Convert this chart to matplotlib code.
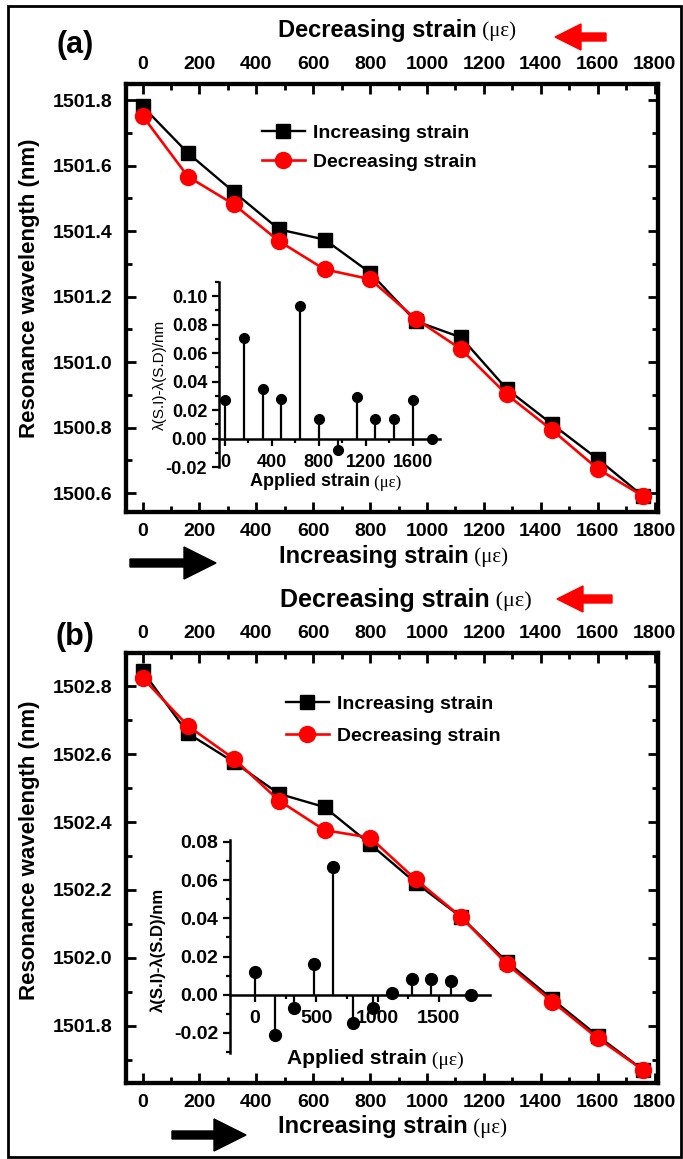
import matplotlib
matplotlib.use("Agg")
import matplotlib.pyplot as plt
from matplotlib.patches import FancyArrow, Rectangle
from matplotlib.ticker import MultipleLocator, FormatStrFormatter

# Deformación aplicada (με)
strain = [0, 160, 320, 480, 640, 800, 960, 1120, 1280, 1440, 1600, 1760]

# Panel (a): longitud de onda de resonancia (nm)
inc_a = [1501.781, 1501.638, 1501.520, 1501.405, 1501.374, 1501.273,
         1501.125, 1501.075, 1500.918, 1500.810, 1500.704, 1500.590]
dec_a = [1501.752, 1501.566, 1501.482, 1501.369, 1501.283, 1501.253,
         1501.132, 1501.039, 1500.901, 1500.792, 1500.674, 1500.590]
diff_a = [0.027, 0.071, 0.035, 0.028, 0.093, 0.014,
          -0.008, 0.029, 0.014, 0.014, 0.027, 0.0]

# Panel (b)
inc_b = [1502.845, 1502.661, 1502.577, 1502.483, 1502.444, 1502.335,
         1502.221, 1502.120, 1501.989, 1501.878, 1501.770, 1501.669]
dec_b = [1502.825, 1502.683, 1502.587, 1502.463, 1502.376, 1502.354,
         1502.231, 1502.120, 1501.982, 1501.871, 1501.763, 1501.669]
diff_b = [0.012, -0.021, -0.007, 0.016, 0.067, -0.015,
          -0.007, 0.001, 0.008, 0.008, 0.007, 0.0]

strain_ticks = [0, 200, 400, 600, 800, 1000, 1200, 1400, 1600, 1800]

W, H = 683, 1159
plt.rcParams['font.family'] = ['Liberation Sans', 'DejaVu Sans']
plt.rcParams['font.weight'] = 'bold'
SERIF = ['Liberation Serif', 'DejaVu Serif']

fig = plt.figure(figsize=(W / 100, H / 100), dpi=100)


def caja(izq, arriba, der, abajo):
    # rectángulo en píxeles -> fracción de figura
    return [izq / W, 1 - abajo / H, (der - izq) / W, (abajo - arriba) / H]


def flecha(x0, x1, y, ancho, cabeza, color):
    a = FancyArrow(x0 / 100, (H - y) / 100, (x1 - x0) / 100, 0,
                   width=ancho / 100, head_width=cabeza / 100,
                   head_length=cabeza / 100, length_includes_head=True,
                   color=color, transform=fig.dpi_scale_trans)
    fig.add_artist(a)


def etiqueta(x, y, texto, size, delta=2):
    # texto en negrita seguido de (με) en letra romana
    t = fig.text(x / W, 1 - y / H, texto, ha='left', va='center',
                 fontsize=size, fontweight='bold')
    fig.text(0, 0, '')
    plt.annotate(' (με)', xy=(1, 0.45), xycoords=t, ha='left', va='center',
                 fontsize=size - delta, family=SERIF, fontweight='normal')


def panel(box, ylim, inc, dec, legend_xy, spacing, inset_box, diff,
          inset_xlim, inset_ylim, inset_major, inset_lsize, dot):
    ax = fig.add_axes(caja(*box))
    ax.plot(strain, inc, color='black', marker='s', markersize=10.5, lw=1.7,
            label='Increasing strain', zorder=3)
    ax.plot(strain, dec, color='red', marker='o', markersize=11.5, lw=1.9,
            label='Decreasing strain', zorder=4)
    ax.set_xlim(-58, 1812)
    ax.set_ylim(*ylim)
    ax.xaxis.set_major_locator(MultipleLocator(200))
    ax.xaxis.set_minor_locator(MultipleLocator(100))
    ax.yaxis.set_major_locator(MultipleLocator(0.2))
    ax.yaxis.set_minor_locator(MultipleLocator(0.1))
    ax.yaxis.set_major_formatter(FormatStrFormatter('%.1f'))
    ax.tick_params(which='both', direction='in', right=True, width=2)
    ax.tick_params(which='major', length=7, labelsize=14)
    ax.tick_params(which='minor', length=4)
    ax.tick_params(axis='x', pad=8)
    ax.tick_params(axis='y', pad=10)
    for s in ax.spines.values():
        s.set_linewidth(3)

    top = ax.twiny()
    top.set_xlim(ax.get_xlim())
    top.set_xticks(strain_ticks)
    top.xaxis.set_minor_locator(MultipleLocator(100))
    top.tick_params(which='both', direction='in', width=2, pad=8)
    top.tick_params(which='major', length=7, labelsize=14)
    top.tick_params(which='minor', length=4)
    for s in top.spines.values():
        s.set_linewidth(3)

    lx, ly = legend_xy
    ax.legend(loc='upper left', bbox_to_anchor=(lx / W, 1 - ly / H),
              bbox_transform=fig.transFigure, frameon=False, fontsize=14,
              handlelength=2.2, handletextpad=0.4, labelspacing=spacing,
              borderpad=0, borderaxespad=0)

    ins = fig.add_axes(caja(*inset_box))
    ins.set_facecolor('none')
    ml, sl, bl = ins.stem(strain, diff, linefmt='k-', markerfmt='ko',
                          basefmt=' ')
    plt.setp(sl, linewidth=1.6)
    plt.setp(ml, markersize=dot)
    ins.set_xlim(*inset_xlim)
    ins.set_ylim(*inset_ylim)
    ins.spines['top'].set_visible(False)
    ins.spines['right'].set_visible(False)
    ins.spines['bottom'].set_position(('data', 0))
    ins.spines['left'].set_linewidth(1.8)
    ins.spines['bottom'].set_linewidth(1.8)
    ins.xaxis.set_major_locator(MultipleLocator(inset_major))
    ins.xaxis.set_minor_locator(MultipleLocator(inset_major / 2))
    ins.yaxis.set_major_locator(MultipleLocator(0.02))
    ins.yaxis.set_minor_locator(MultipleLocator(0.01))
    ins.yaxis.set_major_formatter(FormatStrFormatter('%.2f'))
    ins.tick_params(which='both', direction='out', width=1.6,
                    labelsize=inset_lsize)
    ins.tick_params(which='major', length=5)
    ins.tick_params(which='minor', length=3)
    ins.tick_params(axis='x', pad=6)
    return ax, ins


panel((126, 84, 658, 512), (1500.542, 1501.849), inc_a, dec_a, (262, 124),
      0.6, (219, 282, 440, 467), diff_a, (-51, 1830), (-0.02, 0.11), 400,
      13, 7)
panel((126, 653, 658, 1083), (1501.631, 1502.898), inc_b, dec_b, (286, 695),
      0.75, (230, 840, 490, 1053), diff_b, (-204, 1918), (-0.0305, 0.081),
      500, 14, 8.5)

# Eje vertical principal
fig.text(30 / W, 1 - 288 / H, 'Resonance wavelength (nm)', rotation=90,
         ha='center', va='center', fontsize=16)
fig.text(30 / W, 1 - 850 / H, 'Resonance wavelength (nm)', rotation=90,
         ha='center', va='center', fontsize=16)

# Etiquetas de los insertos
fig.text(160 / W, 1 - 375 / H, 'λ(S.I)-λ(S.D)/nm', rotation=90, ha='center',
         va='center', fontsize=11, fontweight='normal')
fig.text(158 / W, 1 - 950 / H, 'λ(S.I)-λ(S.D)/nm', rotation=90, ha='center',
         va='center', fontsize=12)
etiqueta(250, 482, 'Applied strain', 13, delta=1)
etiqueta(287, 1059, 'Applied strain', 15, delta=1)

# Rótulos de los paneles
fig.text(75 / W, 1 - 45 / H, '(a)', ha='center', va='center', fontsize=22)
fig.text(75 / W, 1 - 637 / H, '(b)', ha='center', va='center', fontsize=22)

# Sentido de la deformación
etiqueta(278, 30, 'Decreasing strain', 17)
etiqueta(279, 556, 'Increasing strain', 17)
etiqueta(280, 600, 'Decreasing strain', 18)
etiqueta(278, 1127, 'Increasing strain', 17)

flecha(606, 555, 37, 8, 26, 'red')
flecha(612, 557, 599, 8, 26, 'red')
flecha(130, 216, 563, 8, 32, 'black')
flecha(172, 246, 1135, 8, 32, 'black')

# Marco exterior
fig.add_artist(Rectangle((8 / W, 2 / H), 673 / W, 1151 / H, fill=False,
                         lw=2, edgecolor='black', transform=fig.transFigure))

fig.savefig('out.png', dpi=100)
